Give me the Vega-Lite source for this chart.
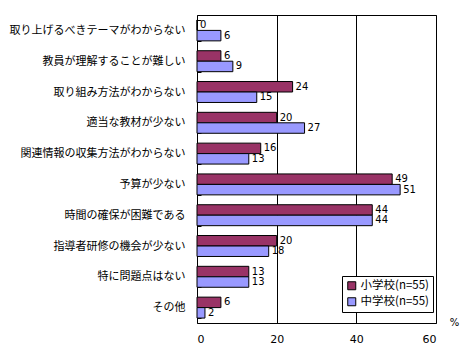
{
  "$schema": "https://vega.github.io/schema/vega-lite/v6.json",
  "width": 239,
  "height": 308,
  "autosize": {"type": "none"},
  "padding": {"left": 197, "top": 15, "right": 34, "bottom": 34},
  "background": "white",
  "config": {
    "view": {"stroke": "black", "strokeWidth": 1},
    "font": "Noto Sans CJK JP"
  },
  "data": {
    "values": [
      {"item": "取り上げるべきテーマがわからない", "school": "小学校(n=55)", "pct": 0},
      {"item": "取り上げるべきテーマがわからない", "school": "中学校(n=55)", "pct": 6},
      {"item": "教員が理解することが難しい", "school": "小学校(n=55)", "pct": 6},
      {"item": "教員が理解することが難しい", "school": "中学校(n=55)", "pct": 9},
      {"item": "取り組み方法がわからない", "school": "小学校(n=55)", "pct": 24},
      {"item": "取り組み方法がわからない", "school": "中学校(n=55)", "pct": 15},
      {"item": "適当な教材が少ない", "school": "小学校(n=55)", "pct": 20},
      {"item": "適当な教材が少ない", "school": "中学校(n=55)", "pct": 27},
      {"item": "関連情報の収集方法がわからない", "school": "小学校(n=55)", "pct": 16},
      {"item": "関連情報の収集方法がわからない", "school": "中学校(n=55)", "pct": 13},
      {"item": "予算が少ない", "school": "小学校(n=55)", "pct": 49},
      {"item": "予算が少ない", "school": "中学校(n=55)", "pct": 51},
      {"item": "時間の確保が困難である", "school": "小学校(n=55)", "pct": 44},
      {"item": "時間の確保が困難である", "school": "中学校(n=55)", "pct": 44},
      {"item": "指導者研修の機会が少ない", "school": "小学校(n=55)", "pct": 20},
      {"item": "指導者研修の機会が少ない", "school": "中学校(n=55)", "pct": 18},
      {"item": "特に問題点はない", "school": "小学校(n=55)", "pct": 13},
      {"item": "特に問題点はない", "school": "中学校(n=55)", "pct": 13},
      {"item": "その他", "school": "小学校(n=55)", "pct": 6},
      {"item": "その他", "school": "中学校(n=55)", "pct": 2}
    ]
  },
  "encoding": {
    "y": {
      "field": "item",
      "type": "nominal",
      "sort": null,
      "scale": {"paddingInner": 0.32, "paddingOuter": 0.16},
      "axis": {
        "title": null,
        "domain": false,
        "tickBand": "extent",
        "tickSize": -4,
        "tickColor": "black",
        "labelPadding": 16,
        "labelFontSize": 11,
        "labelColor": "black",
        "labelFont": "Noto Sans CJK JP",
        "labelLimit": 300
      }
    },
    "yOffset": {
      "field": "school",
      "type": "nominal",
      "sort": ["小学校(n=55)", "中学校(n=55)"],
      "scale": {"paddingInner": 0, "paddingOuter": 0}
    },
    "x": {
      "field": "pct",
      "type": "quantitative",
      "scale": {"domain": [0, 60], "nice": false},
      "axis": {
        "values": [0, 20, 40, 60],
        "ticks": false,
        "domain": false,
        "grid": true,
        "gridColor": "black",
        "gridOpacity": 1,
        "labelPadding": 10,
        "labelFontSize": 11,
        "labelColor": "black",
        "labelFont": "DejaVu Sans",
        "title": "%",
        "titleFontSize": 10,
        "titleFontWeight": "normal",
        "titleFont": "DejaVu Sans",
        "titleColor": "black",
        "titleX": 257,
        "titleY": 2,
        "titleBaseline": "alphabetic",
        "titleAlign": "center"
      }
    }
  },
  "layer": [
    {
      "mark": {"type": "bar", "stroke": "black", "strokeWidth": 1},
      "encoding": {
        "fill": {
          "field": "school",
          "type": "nominal",
          "sort": ["小学校(n=55)", "中学校(n=55)"],
          "scale": {"range": ["#993366", "#9999FF"]},
          "legend": {
            "title": null,
            "orient": "none",
            "legendX": 145,
            "legendY": 261,
            "strokeColor": "black",
            "fillColor": "white",
            "padding": 4,
            "symbolType": "square",
            "symbolSize": 64,
            "symbolStrokeColor": "black",
            "symbolStrokeWidth": 1,
            "labelFontSize": 11.5,
            "labelColor": "black",
            "labelFont": "Noto Sans CJK JP",
            "rowPadding": 3,
            "labelOffset": 3
          }
        }
      }
    },
    {
      "mark": {"type": "text", "align": "left", "baseline": "middle", "dx": 3, "fontSize": 10, "font": "DejaVu Sans", "color": "black"},
      "encoding": {
        "text": {"field": "pct", "type": "quantitative"}
      }
    }
  ]
}
